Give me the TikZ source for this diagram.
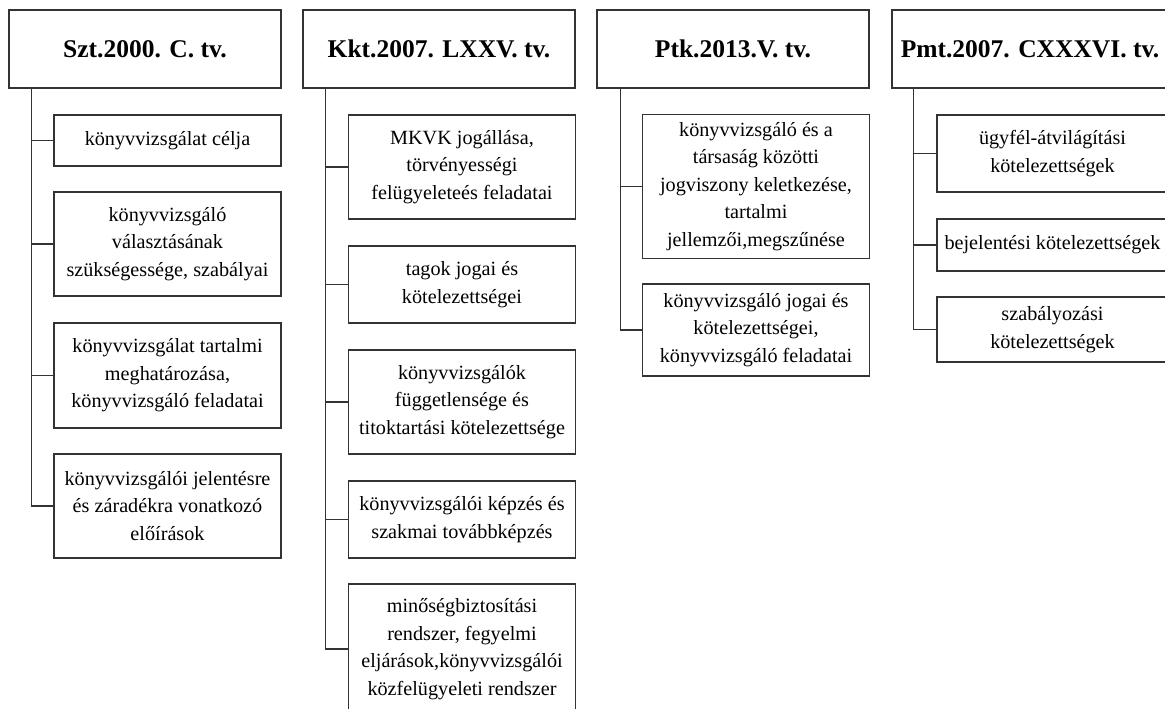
\documentclass[tikz,border=0pt]{standalone}
\usepackage{fontspec}
\setmainfont{Liberation Serif}
\usetikzlibrary{calc}
\begin{document}
\begin{tikzpicture}[x=1pt,y=-1pt,
  line/.style={draw=black!80, line width=1.4pt},
  head/.style={line, rectangle, minimum width=272, minimum height=78, inner sep=0pt,
    font=\fontsize{25.5}{30}\selectfont\bfseries, align=center},
  leaf/.style={line, rectangle, minimum width=227, inner sep=0pt,
    font=\fontsize{20.2}{27.5}\selectfont, align=center},
  link/.style={line}]
\useasboundingbox (0,0) rectangle (1165,709);
\clip (0,0) rectangle (1165,709);

% --- Szt. 2000. C. tv. ---
\node[head] (h1) at (145,49) {Szt.2000. C. tv.};
\coordinate (t1) at ($(h1.south west)+(23,0)$);
\node[leaf, minimum height=51]  (a1) at (167.5,140.5) {könyvvizsgálat célja};
\node[leaf, minimum height=104] (a2) at (167.5,244) {könyvvizsgáló\\választásának\\szükségessége, szabályai};
\node[leaf, minimum height=105] (a3) at (167.5,375.5) {könyvvizsgálat tartalmi\\meghatározása,\\könyvvizsgáló feladatai};
\node[leaf, minimum height=104] (a4) at (167.5,506) {könyvvizsgálói jelentésre\\és záradékra vonatkozó\\előírások};
\foreach \c in {a1,a2,a3,a4} \draw[link] (t1) |- (\c.west);

% --- Kkt. 2007. LXXV. tv. ---
\node[head] (h2) at (439,49) {Kkt.2007. LXXV. tv.};
\coordinate (t2) at ($(h2.south west)+(23,0)$);
\node[leaf, minimum height=104] (b1) at (462,167) {MKVK jogállása,\\törvényességi\\felügyeleteés feladatai};
\node[leaf, minimum height=77]  (b2) at (462,284.5) {tagok jogai és\\kötelezettségei};
\node[leaf, minimum height=104] (b3) at (462,402) {könyvvizsgálók\\függetlensége és\\titoktartási kötelezettsége};
\node[leaf, minimum height=77]  (b4) at (462,519.5) {könyvvizsgálói képzés és\\szakmai továbbképzés};
\node[leaf, minimum height=130] (b5) at (462,649) {minőségbiztosítási\\rendszer, fegyelmi\\eljárások,könyvvizsgálói\\közfelügyeleti rendszer};
\foreach \c in {b1,b2,b3,b4,b5} \draw[link] (t2) |- (\c.west);

% --- Ptk. 2013. V. tv. ---
\node[head] (h3) at (733,49) {Ptk.2013.V. tv.};
\coordinate (t3) at ($(h3.south west)+(24,0)$);
\node[leaf, minimum height=144] (c1) at (756,186.5) {könyvvizsgáló és a\\társaság közötti\\jogviszony keletkezése,\\tartalmi\\jellemzői,megszűnése};
\node[leaf, minimum height=92]  (c2) at (756,330) {könyvvizsgáló jogai és\\kötelezettségei,\\könyvvizsgáló feladatai};
\foreach \c in {c1,c2} \draw[link] (t3) |- (\c.west);

% --- Pmt. 2007. CXXXVI. tv. ---
\node[head, minimum width=276] (h4) at (1030,49) {Pmt.2007. CXXXVI. tv.};
\coordinate (t4) at ($(h4.south west)+(22,0)$);
\node[leaf, minimum width=231, minimum height=77] (d1) at (1052.5,153.5) {ügyfél-átvilágítási\\kötelezettségek};
\node[leaf, minimum width=231, minimum height=52] (d2) at (1052.5,245) {bejelentési kötelezettségek};
\node[leaf, minimum width=231, minimum height=65] (d3) at (1052.5,329.5) {szabályozási\\kötelezettségek};
\foreach \c in {d1,d2,d3} \draw[link] (t4) |- (\c.west);
\end{tikzpicture}
\end{document}
